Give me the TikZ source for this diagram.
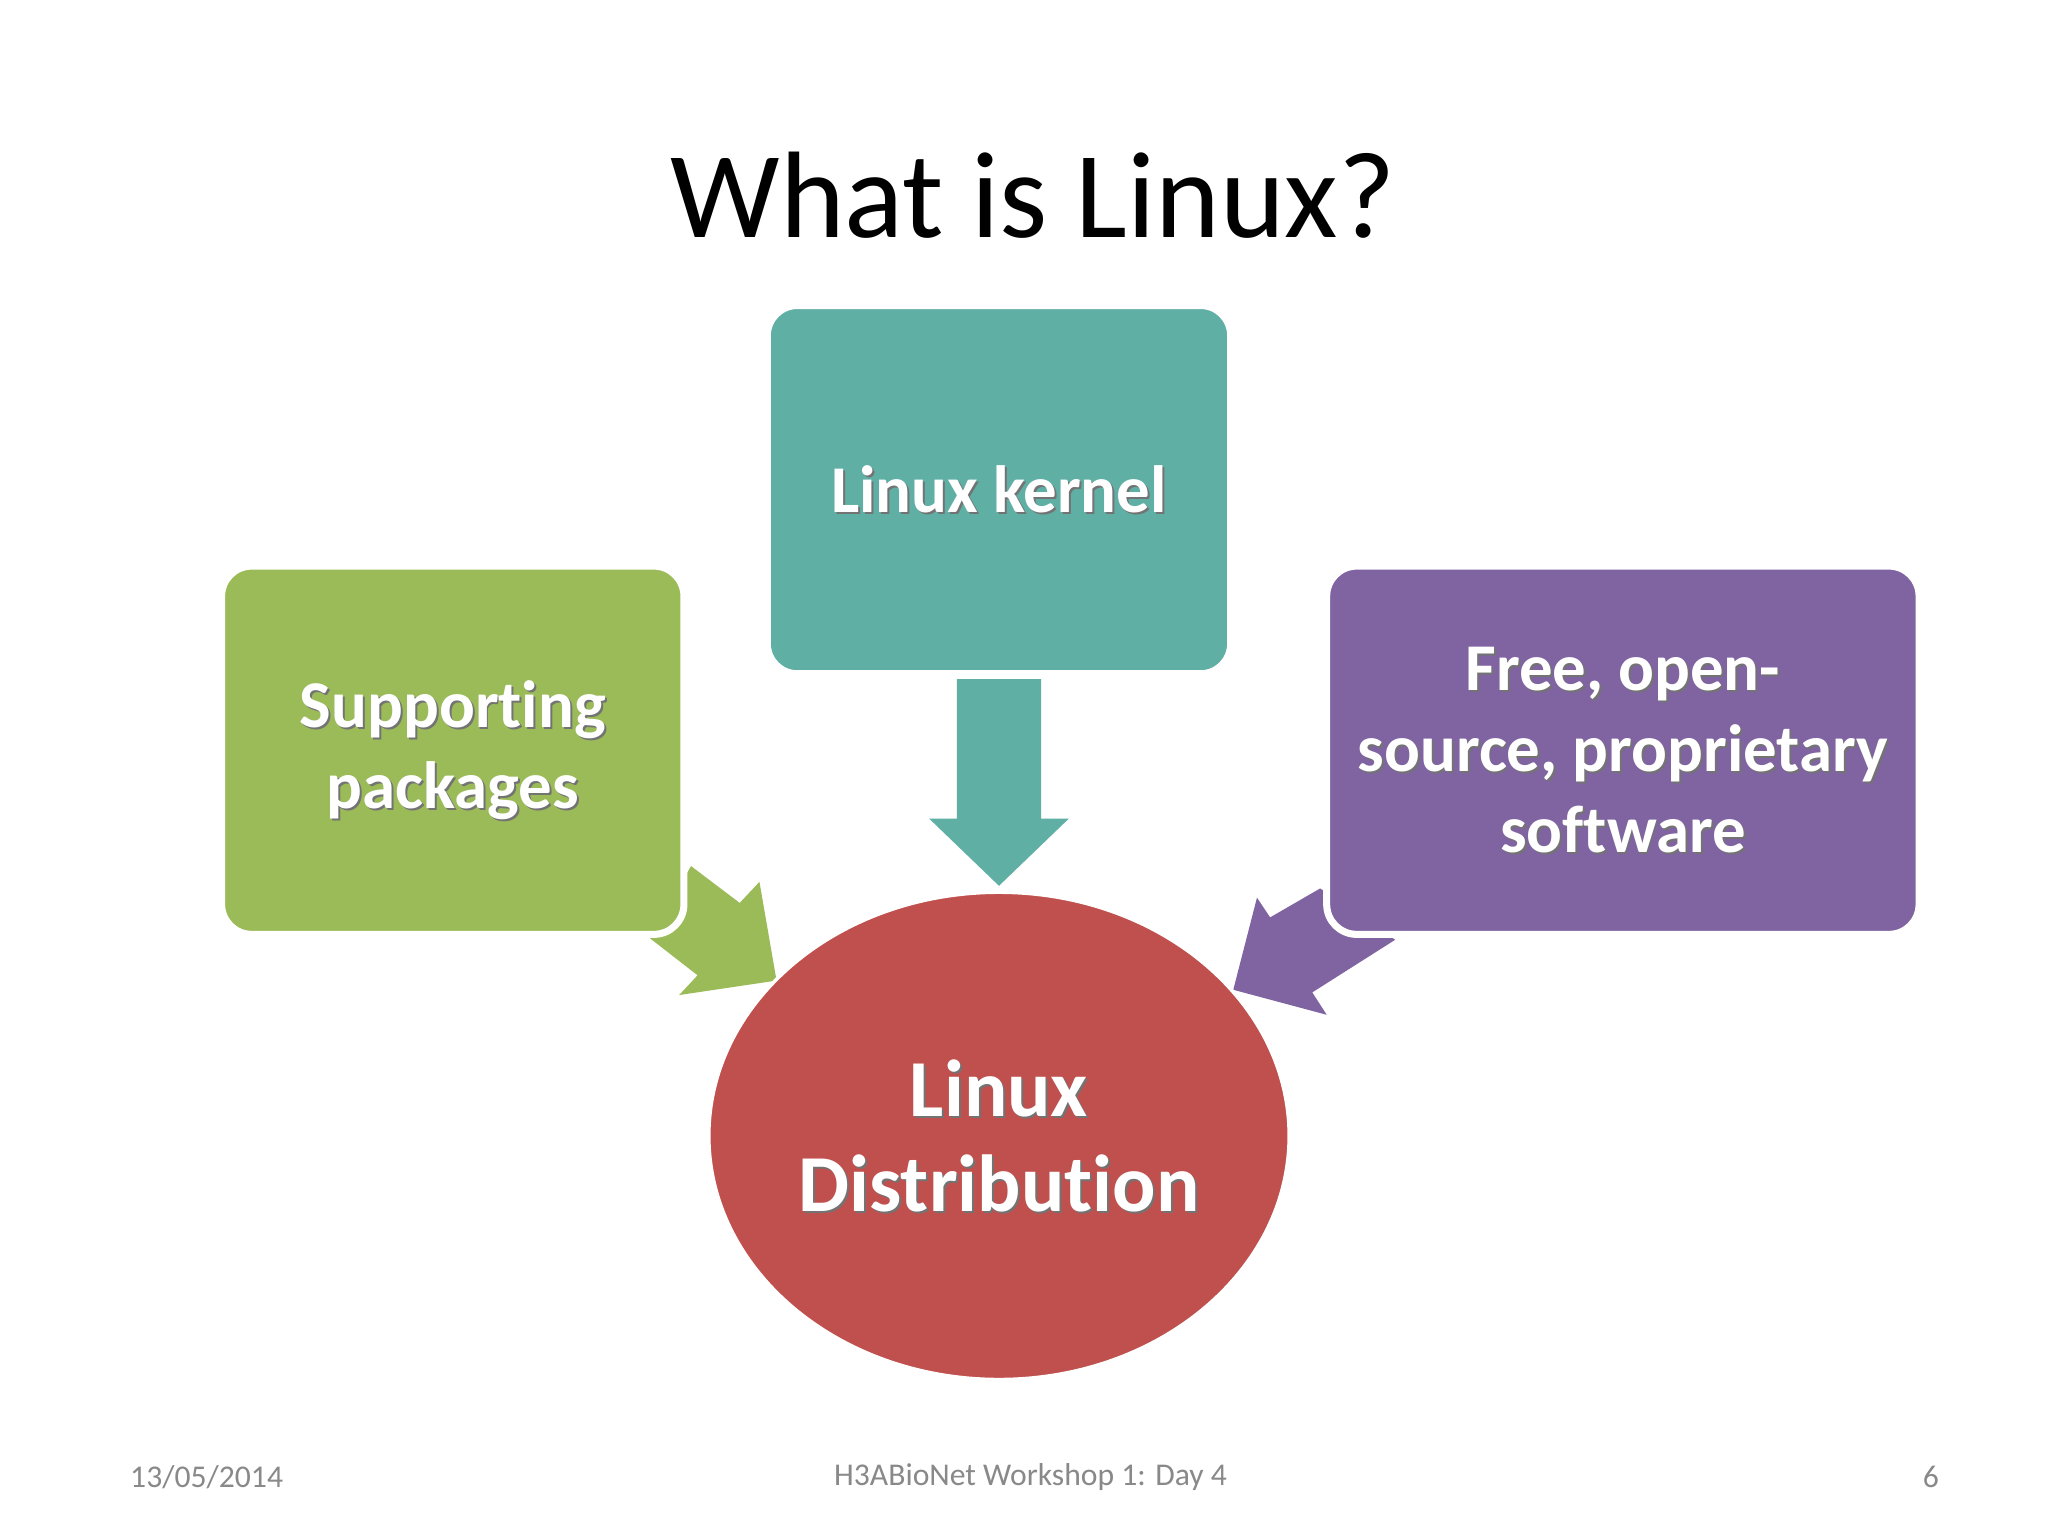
\documentclass[tikz,border=0pt]{standalone}
\usepackage{fontspec}
\usetikzlibrary{shapes.geometric}
\setmainfont[Ligatures=NoCommon]{Carlito}
\definecolor{cgreen}{HTML}{9BBB59}
\definecolor{cteal}{HTML}{5FAFA5}
\definecolor{cpurple}{HTML}{8064A2}
\definecolor{cred}{HTML}{C0504D}
\definecolor{cfoot}{HTML}{898989}
\begin{document}
\begin{tikzpicture}[x=0.01316cm,y=-0.01316cm,
  boxst/.style={draw=white,line width=2pt,rounded corners=0.3cm,inner sep=0pt},
  foot/.style={text=cfoot,font=\fontsize{9}{11}\selectfont}]
\useasboundingbox[fill=white] (0,0) rectangle (1556,1166);
\node[font=\fontsize{35}{42}\selectfont] (title) at (785,148) {What is Linux?};
% arrows
\fill[cteal] (727,516) -- (791,516) -- (791,622) -- (812,622) -- (759,673) -- (706,622) -- (727,622) -- cycle;
\fill[cgreen] (525,658) -- (562,686) -- (577,670) -- (590,745) -- (516,756) -- (530,741) -- (494,713) -- cycle;
\fill[cpurple] (1003,675) -- (965,697) -- (955,682) -- (937,752) -- (1008,771) -- (997,754) -- (1060,714) -- cycle;
% boxes
\node[boxst,fill=cteal,minimum width=4.63cm,minimum height=3.68cm] (kern) at (759,372) {};
\node[boxst,fill=cgreen,minimum width=4.62cm,minimum height=3.68cm] (supp) at (344,570) {};
\node[boxst,fill=cpurple,minimum width=5.92cm,minimum height=3.68cm] (free) at (1233,570) {};
\node[draw=white,line width=1pt,fill=cred,ellipse,minimum width=5.8cm,minimum height=4.87cm,inner sep=0pt] (dist) at (759,863) {};
% labels with shadow
\foreach \p/\t/\s/\b in {{759,372}/{Linux kernel}/19/23, {344,570}/{Supporting\\packages}/19/23, {1233,570}/{Free, open-\\source, proprietary\\software}/19/23, {759,863}/{Linux\\Distribution}/23/27}{
  \node[text=black!55,font=\bfseries\fontsize{\s}{\b}\selectfont,align=center] at ([shift={(1.5,1.5)}]\p) {\t};
  \node[text=white,font=\bfseries\fontsize{\s}{\b}\selectfont,align=center] at (\p) {\t};
}
\node[foot] (date) at (157,1122) {13/05/2014};
\node[foot] (work) at (783,1122) {H3ABioNet Workshop 1: Day 4};
\node[foot] (page) at (1467,1122) {6};
\end{tikzpicture}
\end{document}
